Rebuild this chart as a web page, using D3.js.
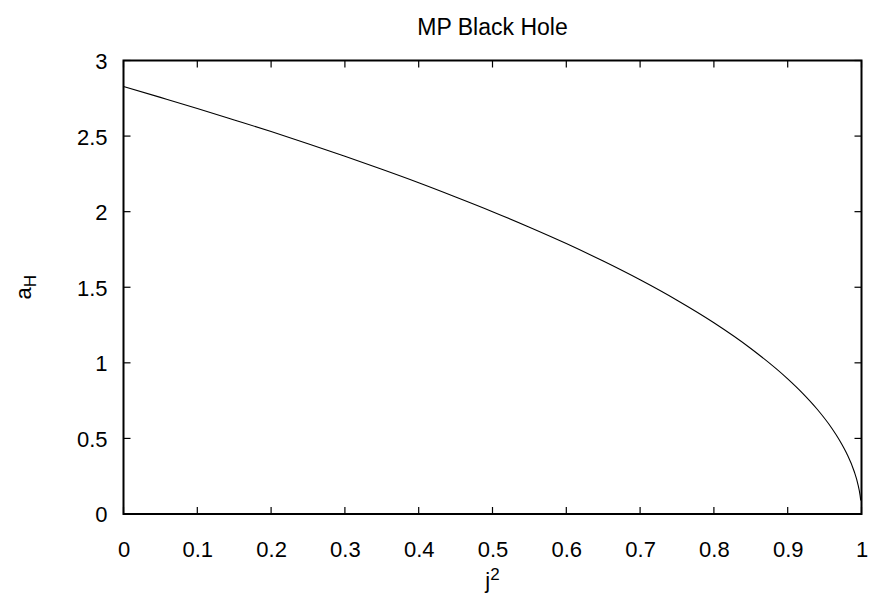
<!DOCTYPE html>
<html><head><meta charset="utf-8">
<script src="https://cdn.jsdelivr.net/npm/d3@7"></script>
<style>body{margin:0;background:#fff}svg{display:block}text{font-family:"Liberation Sans",Arial,Helvetica,sans-serif;fill:#000}</style>
</head><body>
<script>
const jSquared = [0,0.05,0.1,0.15,0.2,0.25,0.3,0.35,0.4,0.45,0.5,0.55,0.6,0.65,0.7,0.75,0.8,0.85,0.9,0.92,0.94,0.96,0.97,0.98,0.99,0.995,0.998,0.999];
const aH = [2.828,2.756,2.683,2.607,2.530,2.449,2.366,2.280,2.191,2.097,2.000,1.897,1.789,1.673,1.549,1.414,1.265,1.095,0.894,0.800,0.693,0.566,0.490,0.400,0.283,0.200,0.126,0.089];
const xTicks = [0,0.1,0.2,0.3,0.4,0.5,0.6,0.7,0.8,0.9,1];
const yTicks = [0,0.5,1,1.5,2,2.5,3];
const title = "MP Black Hole";

const W=872,H=599;
const m={l:123.5,r:861.5,t:60.5,b:514};
const svg=d3.select("body").append("svg").attr("width",W).attr("height",H);
const x=d3.scaleLinear().domain([0,1]).range([m.l,m.r]);
const y=d3.scaleLinear().domain([0,3]).range([m.b,m.t]);
const fmt=d=>String(d);
const tl=7;
svg.append("g").attr("transform",`translate(0,${m.b})`)
  .call(d3.axisBottom(x).tickValues(xTicks).tickFormat(fmt).tickSize(0).tickPadding(27))
  .call(g=>{g.select(".domain").remove();g.selectAll("text").attr("font-size",22).attr("font-family","Liberation Sans, Arial, sans-serif");});
svg.append("g").attr("transform",`translate(${m.l},0)`)
  .call(d3.axisLeft(y).tickValues(yTicks).tickFormat(fmt).tickSize(0).tickPadding(16))
  .call(g=>{g.select(".domain").remove();g.selectAll("text").attr("font-size",22).attr("font-family","Liberation Sans, Arial, sans-serif").attr("dy","0.36em");});
const tk=svg.append("g").attr("stroke","#000").attr("stroke-width",1.2);
xTicks.forEach(v=>{
  tk.append("line").attr("x1",x(v)).attr("x2",x(v)).attr("y1",m.b).attr("y2",m.b-tl);
  tk.append("line").attr("x1",x(v)).attr("x2",x(v)).attr("y1",m.t).attr("y2",m.t+tl);
});
yTicks.forEach(v=>{
  tk.append("line").attr("y1",y(v)).attr("y2",y(v)).attr("x1",m.l).attr("x2",m.l+tl);
  tk.append("line").attr("y1",y(v)).attr("y2",y(v)).attr("x1",m.r).attr("x2",m.r-tl);
});
const line=d3.line().x((d,i)=>x(jSquared[i])).y(d=>y(d)).curve(d3.curveMonotoneX);
svg.append("path").datum(aH).attr("d",line).attr("fill","none").attr("stroke","#000").attr("stroke-width",1.1);
svg.append("rect").attr("x",m.l).attr("y",m.t).attr("width",m.r-m.l).attr("height",m.b-m.t)
  .attr("fill","none").attr("stroke","#000").attr("stroke-width",2);
svg.append("text").attr("x",(m.l+m.r)/2).attr("y",35).attr("text-anchor","middle").attr("font-size",23).text(title);
const xl=svg.append("text").attr("x",(m.l+m.r)/2).attr("y",588).attr("text-anchor","middle").attr("font-size",22);
xl.append("tspan").text("j");
xl.append("tspan").attr("dy","-0.45em").attr("font-size",17).text("2");
const yl=svg.append("text").attr("transform",`translate(31,${(m.t+m.b)/2}) rotate(-90)`).attr("text-anchor","middle").attr("font-size",22);
yl.append("tspan").text("a");
yl.append("tspan").attr("dy","0.3em").attr("font-size",17).text("H");
</script>
</body></html>
